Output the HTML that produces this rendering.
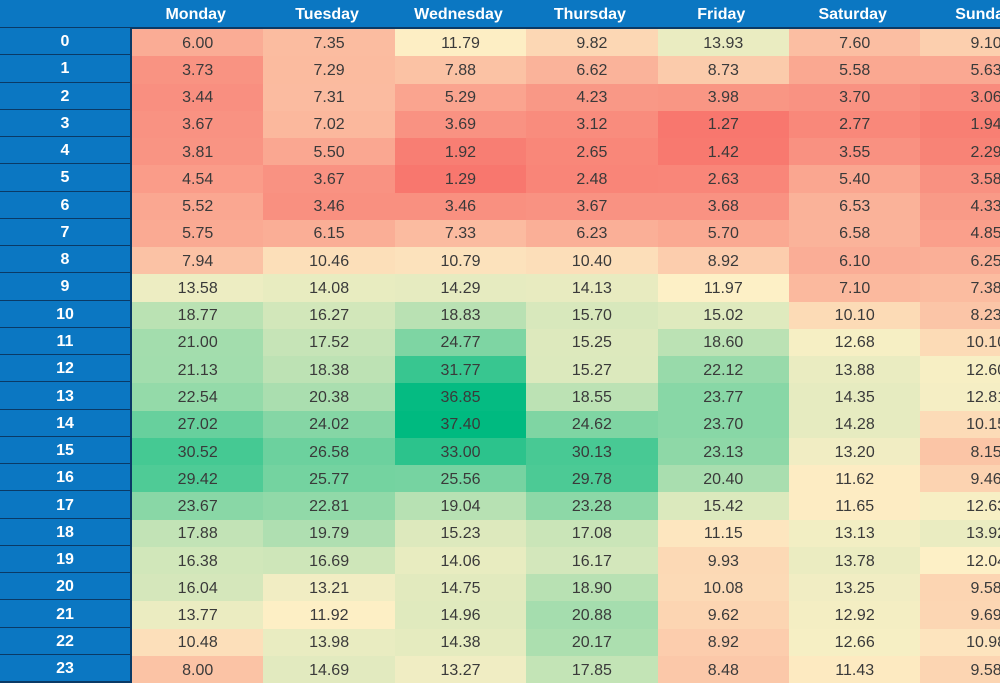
<!DOCTYPE html><html><head><style>
body{margin:0;width:1000px;height:677px;overflow:hidden;background:#fff;font-family:"Liberation Sans",Arial,sans-serif}
.c{position:absolute;display:flex;align-items:center;justify-content:center;box-sizing:border-box}
.h{background:#0b77c2;color:#fff;font-weight:bold;font-size:16px;border-right:2px solid #0a3a66;border-bottom:2px solid #0a3a66;padding-top:2px}
.v{font-size:16px;color:#3a3a3a;padding-top:2px}
</style></head><body><div id="g"></div>
<script>
var d=[[6.00,7.35,11.79,9.82,13.93,7.60,9.10],[3.73,7.29,7.88,6.62,8.73,5.58,5.63],[3.44,7.31,5.29,4.23,3.98,3.70,3.06],[3.67,7.02,3.69,3.12,1.27,2.77,1.94],[3.81,5.50,1.92,2.65,1.42,3.55,2.29],[4.54,3.67,1.29,2.48,2.63,5.40,3.58],[5.52,3.46,3.46,3.67,3.68,6.53,4.33],[5.75,6.15,7.33,6.23,5.70,6.58,4.85],[7.94,10.46,10.79,10.40,8.92,6.10,6.25],[13.58,14.08,14.29,14.13,11.97,7.10,7.38],[18.77,16.27,18.83,15.70,15.02,10.10,8.23],[21.00,17.52,24.77,15.25,18.60,12.68,10.10],[21.13,18.38,31.77,15.27,22.12,13.88,12.60],[22.54,20.38,36.85,18.55,23.77,14.35,12.81],[27.02,24.02,37.40,24.62,23.70,14.28,10.15],[30.52,26.58,33.00,30.13,23.13,13.20,8.15],[29.42,25.77,25.56,29.78,20.40,11.62,9.46],[23.67,22.81,19.04,23.28,15.42,11.65,12.63],[17.88,19.79,15.23,17.08,11.15,13.13,13.92],[16.38,16.69,14.06,16.17,9.93,13.78,12.04],[16.04,13.21,14.75,18.90,10.08,13.25,9.58],[13.77,11.92,14.96,20.88,9.62,12.92,9.69],[10.48,13.98,14.38,20.17,8.92,12.66,10.98],[8.00,14.69,13.27,17.85,8.48,11.43,9.58]];
var days=["Monday","Tuesday","Wednesday","Thursday","Friday","Saturday","Sunday"];
var lo=[248,119,110],mi=[253,240,198],hi=[0,186,128];
function col(v){var a,b,t;if(v<12){t=(v-1.27)/(12-1.27);a=lo;b=mi}else{t=(v-12)/(37.4-12);a=mi;b=hi}
return "rgb("+a.map((x,i)=>Math.round(x+(b[i]-x)*t)).join(",")+")"}
var h="",x0=130,w=131.4,y0=28,rh=27.26;
h+='<div class="c h" style="left:0;top:0;width:132px;height:29px"></div>';
days.forEach((n,j)=>{h+='<div class="c h" style="left:'+(x0+j*w)+'px;top:0;width:'+(w+2)+'px;height:29px">'+n+'</div>'});
for(var r=0;r<24;r++){var y=y0+r*rh;
h+='<div class="c h" style="left:0;top:'+y+'px;width:132px;height:'+(rh+1)+'px">'+r+'</div>';
for(var j=0;j<7;j++)h+='<div class="c v" style="left:'+(x0+2+j*w)+'px;top:'+(y+1)+'px;width:'+w+'px;height:'+rh+'px;background:'+col(d[r][j])+'">'+d[r][j].toFixed(2)+'</div>';}
document.getElementById("g").innerHTML=h;
</script></body></html>
